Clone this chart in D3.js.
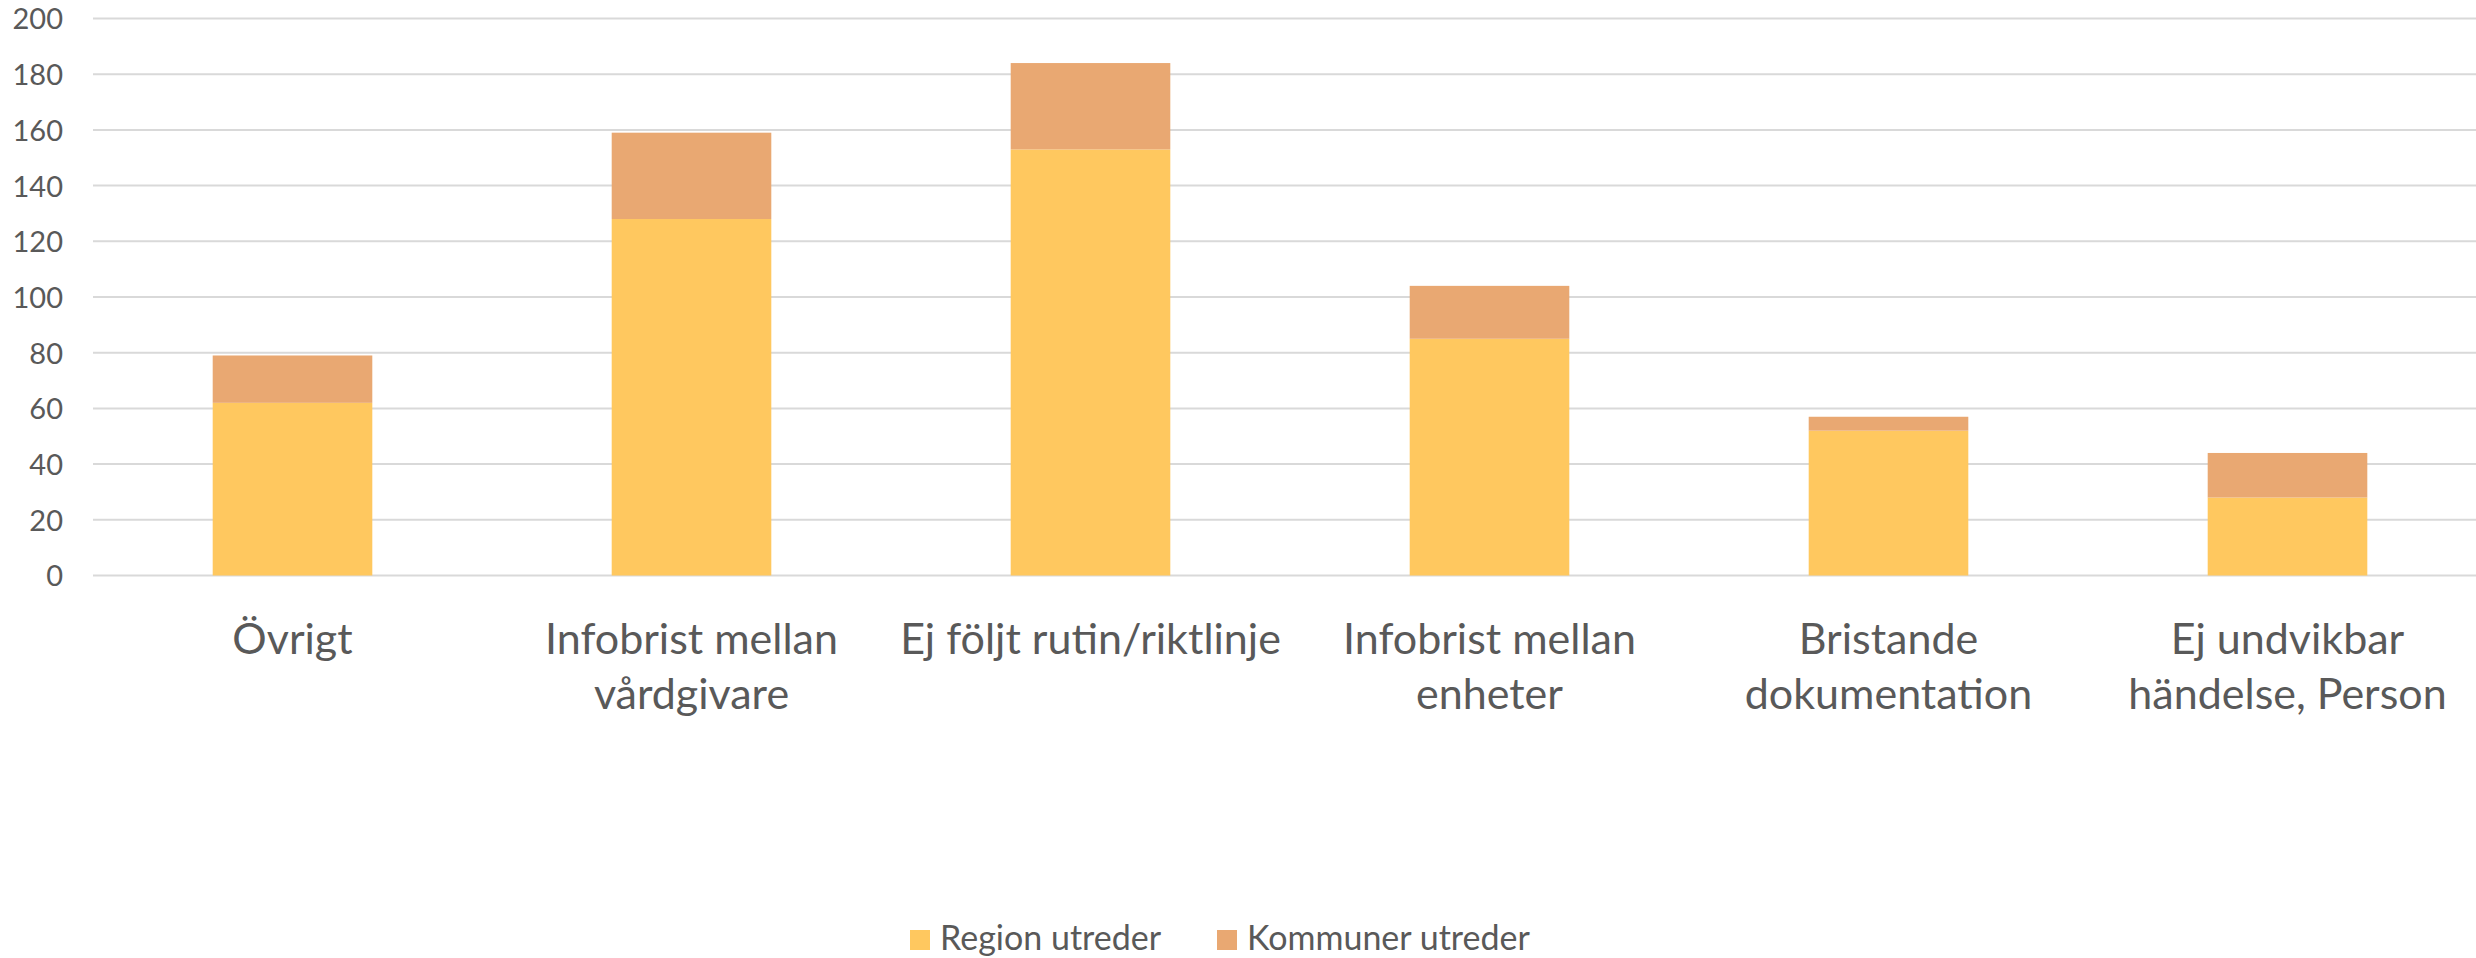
<!DOCTYPE html>
<html>
<head>
<meta charset="utf-8">
<script src="https://cdn.jsdelivr.net/npm/d3@7/dist/d3.min.js"></script>
<style>
  html, body { margin: 0; padding: 0; background: #ffffff; }
  svg { display: block; }
  text { font-family: Lato, "Noto Sans", sans-serif; fill: #595959; }
</style>
</head>
<body>
<svg id="chart" width="2476" height="958"></svg>
<script>
// Data
const categories = [
  ["Övrigt"],
  ["Infobrist mellan", "vårdgivare"],
  ["Ej följt rutin/riktlinje"],
  ["Infobrist mellan", "enheter"],
  ["Bristande", "dokumentation"],
  ["Ej undvikbar", "händelse, Person"]
];
const seriesNames = ["Region utreder", "Kommuner utreder"];
const regionValues = [62, 128, 153, 85, 52, 28];
const kommunValues = [17, 31, 31, 19, 5, 16];
const yTicks = [0, 20, 40, 60, 80, 100, 120, 140, 160, 180, 200];
const colors = ["#FFC85F", "#E9A872"];

const svg = d3.select("#chart");
const plotLeft = 93, plotRight = 2487, gridRight = 2476;
const y0 = 575.5, y200 = 18.5;

const keys = categories.map((c, i) => i);
const x = d3.scaleBand().domain(keys).range([plotLeft, plotRight]).paddingInner(0.6).paddingOuter(0.3);
const y = d3.scaleLinear().domain([0, 200]).range([y0, y200]);

// Gridlines
svg.append("g").selectAll("line").data(yTicks).join("line")
  .attr("x1", plotLeft).attr("x2", gridRight)
  .attr("y1", d => y(d)).attr("y2", d => y(d))
  .attr("stroke", "#d9d9d9").attr("stroke-width", 2);

// Y axis labels
const yAxis = d3.axisLeft(y).tickValues(yTicks).tickSize(0).tickPadding(0);
const yg = svg.append("g").attr("transform", `translate(63,0)`).call(yAxis);
yg.select(".domain").remove();
yg.selectAll("text").attr("font-family", "Lato, sans-serif").attr("font-size", 29).attr("fill", "#595959").attr("dy", "0.36em");

// Stacked data
const rows = keys.map(i => ({ i, region: regionValues[i], kommun: kommunValues[i] }));
const stack = d3.stack().keys(["region", "kommun"]);
const stacked = stack(rows);

svg.append("g").selectAll("g").data(stacked).join("g")
  .attr("fill", (d, k) => colors[k])
  .selectAll("rect").data(d => d).join("rect")
  .attr("x", d => x(d.data.i))
  .attr("width", x.bandwidth())
  .attr("y", d => y(d[1]))
  .attr("height", d => y(d[0]) - y(d[1]));

// Category labels
const catG = svg.append("g");
categories.forEach((lines, i) => {
  const cx = x(i) + x.bandwidth() / 2;
  const t = catG.append("text").attr("text-anchor", "middle").attr("font-size", 43);
  lines.forEach((ln, j) => {
    t.append("tspan").attr("x", cx).attr("y", 654 + j * 55).text(ln);
  });
});

// Legend
const legend = svg.append("g");
const legendItems = [
  { name: seriesNames[0], color: colors[0], sx: 910, tx: 940 },
  { name: seriesNames[1], color: colors[1], sx: 1217, tx: 1247 }
];
legendItems.forEach(it => {
  legend.append("rect").attr("x", it.sx).attr("y", 930).attr("width", 20).attr("height", 20).attr("fill", it.color);
  legend.append("text").attr("x", it.tx).attr("y", 950).attr("font-size", 34).text(it.name);
});
</script>
</body>
</html>
